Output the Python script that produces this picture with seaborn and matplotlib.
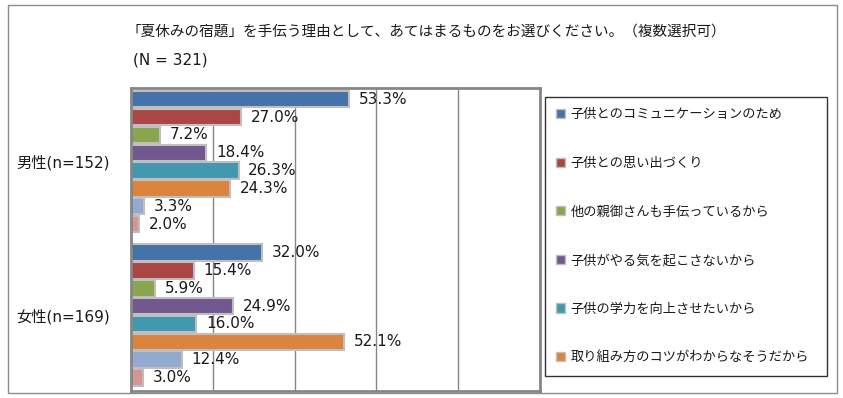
import pandas as pd
import matplotlib.pyplot as plt
import matplotlib.patches as mpatches
import seaborn as sns

# Data (percent)
groups = ['男性(n=152)', '女性(n=169)']
reasons = [
    '子供とのコミュニケーションのため',
    '子供との思い出づくり',
    '他の親御さんも手伝っているから',
    '子供がやる気を起こさないから',
    '子供の学力を向上させたいから',
    '取り組み方のコツがわからなそうだから',
    'その他',
    '特に理由はない',
]
male_values = [53.3, 27.0, 7.2, 18.4, 26.3, 24.3, 3.3, 2.0]
female_values = [32.0, 15.4, 5.9, 24.9, 16.0, 52.1, 12.4, 3.0]
colors = ['#4572A7', '#AA4643', '#89A54E', '#71588F',
          '#4198AF', '#DB843D', '#93A9CF', '#D59593']

title = '「夏休みの宿題」を手伝う理由として、あてはまるものをお選びください。（複数選択可）'
subtitle = '(N = 321)'

# Long table for seaborn
rows = []
for g, vals in zip(groups, [male_values, female_values]):
    for r, v in zip(reasons, vals):
        rows.append({'group': g, 'reason': r, 'value': v})
df = pd.DataFrame(rows)

sns.set_theme(style='white')
plt.rcParams['font.family'] = ['Noto Sans CJK JP', 'DejaVu Sans']
latin = ['DejaVu Sans', 'Noto Sans CJK JP']

fig = plt.figure(figsize=(8.43, 3.98), dpi=100)
ax = fig.add_axes([131 / 843, 1 - 391 / 398, 409 / 843, 303 / 398])

sns.barplot(data=df, y='group', x='value', hue='reason', hue_order=reasons,
            palette=colors, orient='h', width=0.93, gap=0.08,
            edgecolor='#BFBFBF', linewidth=1.5, saturation=1,
            legend=False, ax=ax)

# Value labels
for cont in ax.containers:
    ax.bar_label(cont, fmt='%.1f%%', padding=7, fontsize=11,
                 family=latin, color='#1a1a1a')

ax.set_xlim(0, 100)
ax.set_ylim(1.495, -0.48)
ax.set_xticks([0, 20, 40, 60, 80, 100])
ax.set_xticklabels([])
ax.tick_params(axis='both', length=0)
ax.tick_params(axis='y', pad=15, labelcolor='#1a1a1a')
for lab in ax.get_yticklabels():
    lab.set_family(latin)
    lab.set_fontsize(11)
ax.set_xlabel('')
ax.set_ylabel('')
ax.set_axisbelow(True)
ax.grid(axis='x', color='#868686', linewidth=1)
ax.grid(axis='y', visible=False)
for s in ax.spines.values():
    s.set_color('#868686')
    s.set_linewidth(2)

# Titles
fig.text(126 / 843, 1 - 32 / 398, title, fontsize=10.5, va='center',
         ha='left', color='#1a1a1a')
fig.text(133 / 843, 1 - 60 / 398, subtitle, fontsize=11, va='center',
         ha='left', color='#1a1a1a', family=latin)

# Legend (only the first six entries are visible in the original)
handles = [mpatches.Patch(facecolor=c, edgecolor='#BFBFBF', linewidth=1)
           for c in colors[:6]]
leg = fig.legend(handles, reasons[:6], loc='upper left',
                 bbox_to_anchor=(545 / 843, 1 - 97 / 398, 282 / 843, 0),
                 mode='expand', fontsize=9.5, frameon=True, fancybox=False,
                 labelspacing=2.7, handlelength=0.7, handleheight=0.7,
                 handletextpad=0.4, borderpad=0.85, borderaxespad=0)
leg.get_frame().set_edgecolor('black')
leg.get_frame().set_linewidth(1)
for t in leg.get_texts():
    t.set_color('#1a1a1a')

# Outer border of the chart area
fig.patches.append(mpatches.Rectangle((8 / 843, 1 - 393 / 398),
                                      829 / 843, 388 / 398,
                                      transform=fig.transFigure, fill=False,
                                      edgecolor='#8C8C8C', linewidth=1))

fig.savefig('out.png', dpi=100)
plt.close(fig)
